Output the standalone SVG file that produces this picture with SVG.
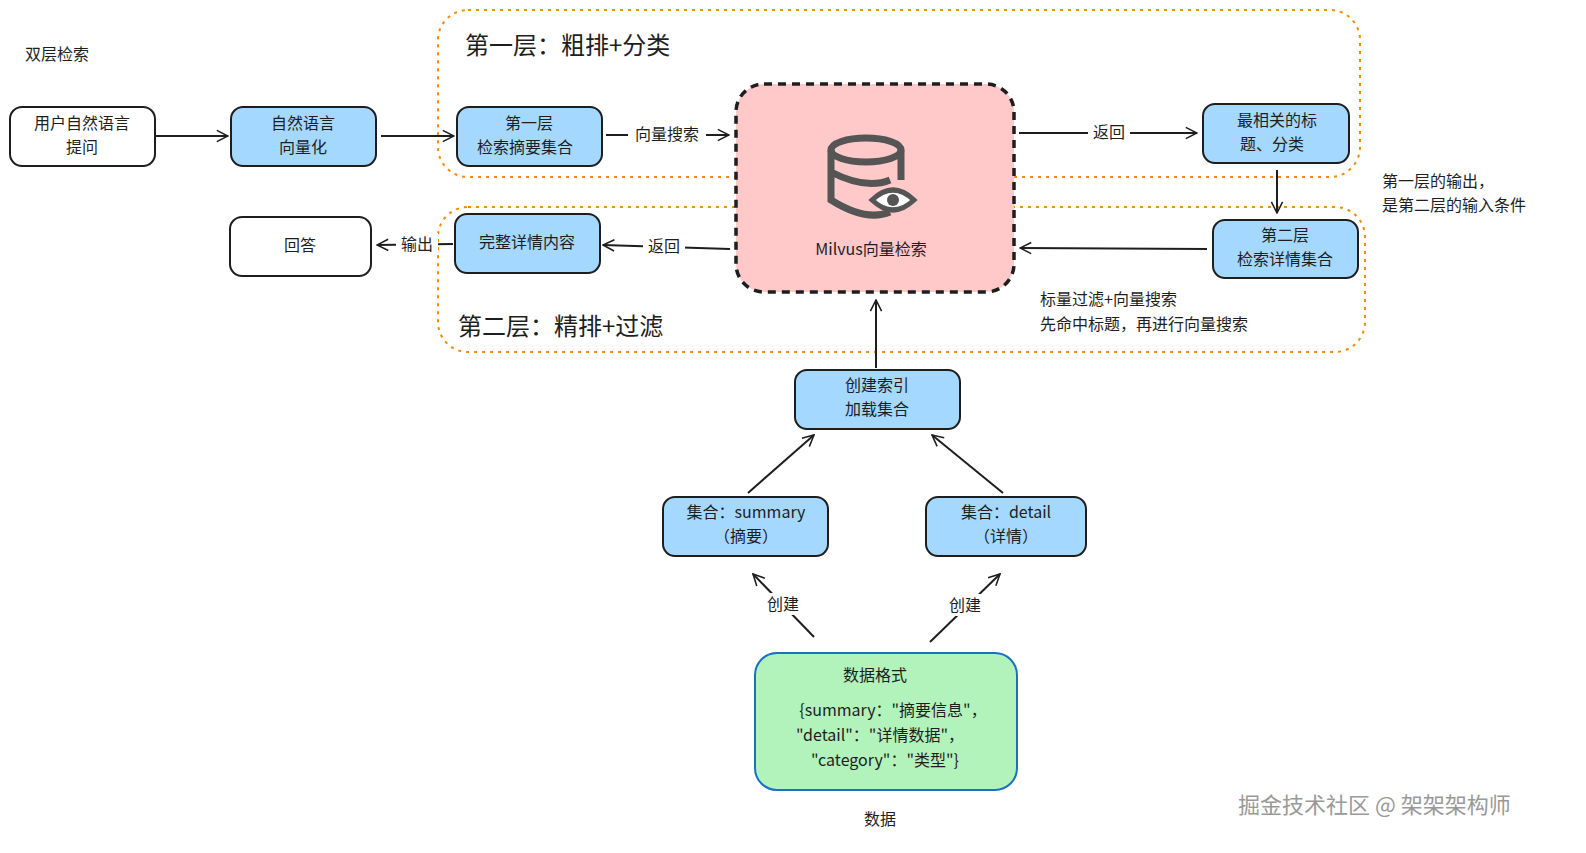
<svg xmlns="http://www.w3.org/2000/svg" width="1586" height="853" viewBox="0 0 1586 853">
<defs>
<marker id="ah" viewBox="0 0 20 20" refX="18" refY="10" markerWidth="14" markerHeight="14" markerUnits="userSpaceOnUse" orient="auto"><path d="M2,2 L18,10 L2,18" fill="none" stroke="#1e1e1e" stroke-width="2.2"/></marker>
</defs>
<style>
text{font-family:"Noto Sans CJK SC","Noto Sans",sans-serif;fill:#1e1e1e}
.n{font-size:16px;text-anchor:middle}
.b{fill:#a5d8ff;stroke:#1e1e1e;stroke-width:2}
.w{fill:#fff;stroke:#1e1e1e;stroke-width:2}
.g{fill:none;stroke:#f08c00;stroke-width:2;stroke-dasharray:3 5}
.c{fill:none;stroke:#1e1e1e;stroke-width:2;marker-end:url(#ah)}
.lb{font-size:16px;text-anchor:middle}
</style>
<rect width="1586" height="853" fill="#fff"/>
<text x="25" y="60" font-size="16">双层检索</text>
<g id="layer1"><rect class="g" x="438" y="10" width="922" height="167" rx="30"/><text x="465" y="54" font-size="24">第一层：粗排+分类</text></g>
<g id="layer2"><rect class="g" x="438" y="207" width="927" height="145" rx="30"/><text x="458" y="335" font-size="24">第二层：精排+过滤</text></g>
<g id="connectors">
<path class="c" d="M156,136 L228,136"/>
<path class="c" d="M381,136 L454,136"/>
<path class="c" d="M606,135 L729,135"/>
<rect x="628" y="123" width="78" height="22" fill="#fff"/><text class="lb" x="667" y="140">向量搜索</text>
<path class="c" d="M1019,133 L1197,133"/>
<rect x="1088" y="121" width="42" height="22" fill="#fff"/><text class="lb" x="1109" y="138">返回</text>
<path class="c" d="M1277,170 L1277,213"/>
<path class="c" d="M1207,249 L1020,248"/>
<path class="c" d="M730,249 L603,245"/>
<rect x="643" y="236" width="42" height="22" fill="#fff"/><text class="lb" x="664" y="252">返回</text>
<path class="c" d="M453,244 L377,245"/>
<rect x="396" y="233" width="42" height="22" fill="#fff"/><text class="lb" x="417" y="250">输出</text>
<path class="c" d="M876,368 L876,300"/>
<path class="c" d="M748,493 L814,435"/>
<path class="c" d="M1003,493 L932,435"/>
<path class="c" d="M814,637 L753,574"/>
<path class="c" d="M930,642 L1000,574"/>
<rect x="762" y="593" width="42" height="22" fill="#fff"/><text class="lb" x="783" y="610">创建</text>
<rect x="944" y="594" width="42" height="22" fill="#fff"/><text class="lb" x="965" y="611">创建</text>
</g>
<g id="user"><rect class="w" x="10" y="107" width="145" height="59" rx="12"/><text class="n" x="82" y="129">用户自然语言</text><text class="n" x="82" y="153">提问</text></g>
<g id="vec"><rect class="b" x="231" y="107" width="145" height="59" rx="12"/><text class="n" x="303" y="129">自然语言</text><text class="n" x="303" y="153">向量化</text></g>
<g id="l1"><rect class="b" x="457" y="107" width="145" height="59" rx="12"/><text class="n" x="529" y="129">第一层</text><text class="n" x="525" y="153">检索摘要集合</text></g>
<g id="milvus"><rect x="736" y="84" width="278" height="208" rx="28" fill="#ffc9c9" stroke="#1e1e1e" stroke-width="3.5" stroke-dasharray="8 6"/>
<g fill="none" stroke="#555" stroke-width="7"><ellipse cx="866" cy="150" rx="35" ry="12"/><path d="M831,150 V200 Q866,222 890,212 M901,150 V180 M831,172 Q866,190 890,180 M831,195"/></g>
<path d="M872,200 Q893,180 914,200 Q893,220 872,200 Z" fill="#fff" stroke="#555" stroke-width="5"/><circle cx="893" cy="200" r="6" fill="#555"/>
<text x="871" y="255" font-size="16" text-anchor="middle">Milvus向量检索</text></g>
<g id="top"><rect class="b" x="1203" y="104" width="146" height="59" rx="12"/><text class="n" x="1277" y="126">最相关的标</text><text class="n" x="1272" y="150">题、分类</text></g>
<g id="l2"><rect class="b" x="1213" y="220" width="145" height="58" rx="12"/><text class="n" x="1285" y="241">第二层</text><text class="n" x="1285" y="265">检索详情集合</text></g>
<g id="full"><rect class="b" x="455" y="214" width="145" height="59" rx="12"/><text class="n" x="527" y="248">完整详情内容</text></g>
<g id="ans"><rect class="w" x="230" y="217" width="141" height="59" rx="12"/><text class="n" x="300" y="251">回答</text></g>
<g id="idx"><rect class="b" x="795" y="370" width="165" height="59" rx="12"/><text class="n" x="877" y="391">创建索引</text><text class="n" x="877" y="415">加载集合</text></g>
<g id="sum"><rect class="b" x="663" y="497" width="165" height="59" rx="12"/><text class="n" x="746" y="518">集合：summary</text><text class="n" x="746" y="542">（摘要）</text></g>
<g id="det"><rect class="b" x="926" y="497" width="160" height="59" rx="12"/><text class="n" x="1006" y="518">集合：detail</text><text class="n" x="1006" y="542">（详情）</text></g>
<g id="data"><rect x="755" y="653" width="262" height="137" rx="22" fill="#b2f2bb" stroke="#1971c2" stroke-width="2"/><text class="n" x="875" y="681">数据格式</text><text class="n" x="893" y="716">{summary："摘要信息"，</text><text class="n" x="880" y="741">"detail"："详情数据"，</text><text class="n" x="885" y="766">"category"："类型"}</text></g>
<text class="n" x="880" y="825">数据</text>
<text x="1382" y="187" font-size="16">第一层的输出，</text>
<text x="1382" y="211" font-size="16">是第二层的输入条件</text>
<text x="1040" y="305" font-size="16">标量过滤+向量搜索</text>
<text x="1040" y="330" font-size="16">先命中标题，再进行向量搜索</text>
<text x="1238" y="813" font-size="22" style="fill:#999">掘金技术社区 @ 架架架构师</text>
</svg>
